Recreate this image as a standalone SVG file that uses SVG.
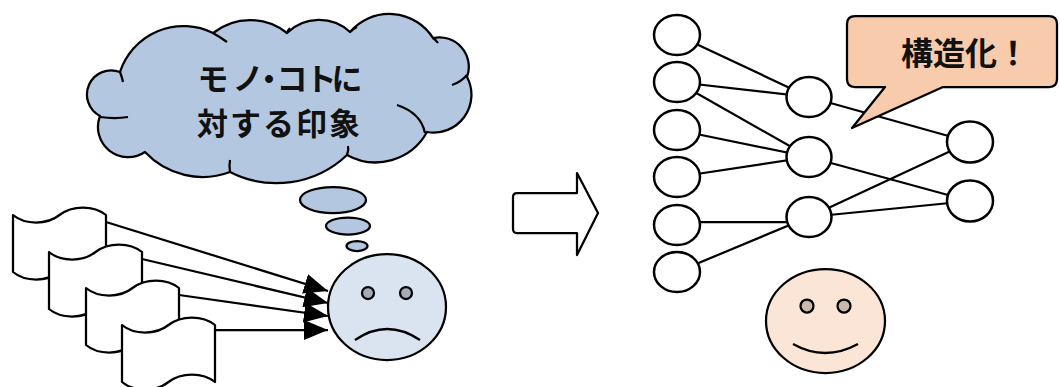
<svg xmlns="http://www.w3.org/2000/svg" xmlns:xlink="http://www.w3.org/1999/xlink" width="1060" height="387" viewBox="0 0 1060 387">
  <style>
    .ln { stroke: #000; stroke-width: 2.25; fill: none; }
    .shape { stroke: #000; stroke-width: 2.25; stroke-linejoin: round; }
    .node { fill: #fff; stroke: #000; stroke-width: 2.5; }
    .jp { font-family: "Noto Sans CJK JP", "Noto Sans CJK SC", sans-serif; font-weight: 700; fill: #111; }
    .sky { fill: #b4c7e0; }
  </style>
  <defs>
    <marker id="head" markerUnits="userSpaceOnUse" markerWidth="24" markerHeight="20" refX="24" refY="10" orient="auto">
      <path d="M0,0 L24,10 L0,20 Z" fill="#000"/>
    </marker>
    <!-- punched-tape document, 93 x 57 -->
    <path id="doc" d="M0,0 C12,10 34,10 46.5,0 C59,-10 81,-10 93,0 L93,57 C81,47 59,47 46.5,57 C34,67 12,67 0,57 Z" fill="#fff" stroke="#000" stroke-width="2.25" stroke-linejoin="round"/>
  </defs>

  <!-- thought cloud -->
  <g id="cloud">
    <path class="shape sky" d="M120,72 A66.7,66.7 0 0 1 213,33 A59.2,59.2 0 0 1 287,33 A45.9,45.9 0 0 1 350,32 A51.7,51.7 0 0 1 433,38 A29.5,29.5 0 0 1 467,77 A37.8,37.8 0 0 1 427,132 A58.9,58.9 0 0 1 347,155 A102.3,102.3 0 0 1 230,172 A78.8,78.8 0 0 1 145,152 A30.2,30.2 0 0 1 100,116 A24.2,24.2 0 0 1 120,72 Z"/>
    <g class="ln">
      <path d="M120,72 Q122,77 123,82"/>
      <path d="M213,33 Q220,37 227,42"/>
      <path d="M287,33 Q288,30 290,28"/>
      <path d="M350,32 Q353,29 357,27"/>
      <path d="M433,38 Q436,40 438,43"/>
      <path d="M452,85 Q461,82 467,75"/>
      <path d="M397,105 Q421,113 425,133"/>
      <path d="M347,155 Q349,150 348,146"/>
      <path d="M230,172 Q229,166 230,160"/>
      <path d="M100,117 Q115,119 128,117"/>
    </g>
    <text class="jp" font-size="31" text-anchor="middle" x="213 248 269 292 321 347" y="90">モノ・コトに</text>
    <text class="jp" font-size="31" letter-spacing="2" x="197" y="135">対する印象</text>
  </g>
  <g id="thought-dots">
    <ellipse class="shape sky" cx="333" cy="200" rx="33" ry="13"/>
    <ellipse class="shape sky" cx="348" cy="226" rx="22" ry="8.5"/>
    <ellipse class="shape sky" cx="357" cy="246" rx="10.5" ry="5"/>
  </g>

  <!-- stacked documents -->
  <g id="doc-1"><use xlink:href="#doc" x="13" y="215"/></g>
  <g id="doc-2"><use xlink:href="#doc" x="49" y="252"/></g>
  <g id="doc-3"><use xlink:href="#doc" x="86" y="288"/></g>
  <g id="doc-4"><use xlink:href="#doc" x="122" y="325"/></g>

  <!-- connectors -->
  <g id="connectors" class="ln">
    <line x1="106" y1="222" x2="328" y2="291" marker-end="url(#head)"/>
    <line x1="142" y1="259" x2="328" y2="303" marker-end="url(#head)"/>
    <line x1="179" y1="295" x2="328" y2="316" marker-end="url(#head)"/>
    <line x1="215" y1="330" x2="328" y2="330" marker-end="url(#head)"/>

    <line x1="677" y1="35" x2="809" y2="97"/>
    <line x1="677" y1="82" x2="809" y2="97"/>
    <line x1="677" y1="82" x2="809" y2="157"/>
    <line x1="677" y1="130" x2="809" y2="157"/>
    <line x1="677" y1="177" x2="809" y2="157"/>
    <line x1="677" y1="222" x2="809" y2="222"/>
    <line x1="677" y1="272" x2="809" y2="217"/>
    <line x1="809" y1="97" x2="970" y2="142"/>
    <line x1="809" y1="157" x2="970" y2="201"/>
    <line x1="809" y1="217" x2="970" y2="142"/>
    <line x1="809" y1="217" x2="970" y2="201"/>
  </g>

  <!-- unhappy face -->
  <g id="sad-face">
    <ellipse class="shape" cx="387" cy="307" rx="59" ry="53" fill="#dae3f0"/>
    <circle class="shape" cx="368" cy="293" r="6" fill="#a5acb8"/>
    <circle class="shape" cx="406" cy="293" r="6" fill="#a5acb8"/>
    <path class="ln" d="M355,340 Q387,318 420,340"/>
  </g>

  <!-- block arrow -->
  <g id="block-arrow">
    <path class="shape" fill="#fff" d="M517,193 L577,193 L577,173 L598,213 L577,255 L577,233 L517,233 Q513,233 513,229 L513,197 Q513,193 517,193 Z"/>
  </g>

  <!-- network nodes -->
  <g id="n-l1"><ellipse class="node" cx="677" cy="35" rx="23" ry="20"/></g>
  <g id="n-l2"><ellipse class="node" cx="677" cy="82" rx="23" ry="20"/></g>
  <g id="n-l3"><ellipse class="node" cx="677" cy="130" rx="23" ry="20"/></g>
  <g id="n-l4"><ellipse class="node" cx="677" cy="177" rx="23" ry="20"/></g>
  <g id="n-l5"><ellipse class="node" cx="677" cy="225" rx="23" ry="20"/></g>
  <g id="n-l6"><ellipse class="node" cx="677" cy="272" rx="23" ry="20"/></g>
  <g id="n-m1"><ellipse class="node" cx="809" cy="97" rx="22.5" ry="20"/></g>
  <g id="n-m2"><ellipse class="node" cx="809" cy="157" rx="22.5" ry="20"/></g>
  <g id="n-m3"><ellipse class="node" cx="809" cy="217" rx="22.5" ry="20"/></g>
  <g id="n-r1"><ellipse class="node" cx="970" cy="142" rx="23" ry="20.5"/></g>
  <g id="n-r2"><ellipse class="node" cx="970" cy="201" rx="23" ry="20.5"/></g>

  <!-- speech bubble -->
  <g id="speech">
    <path class="shape" fill="#f8cbad" d="M855,16 L1049,16 Q1057,16 1057,24 L1057,79 Q1057,87 1049,87 L943,87 L852,128 L885,87 L855,87 Q847,87 847,79 L847,24 Q847,16 855,16 Z"/>
    <text class="jp" font-size="32" x="901" y="65">構造化！</text>
  </g>

  <!-- happy face -->
  <g id="happy-face">
    <ellipse class="shape" cx="825.5" cy="321" rx="59.5" ry="52" fill="#fbe5d6"/>
    <circle class="shape" cx="807" cy="306" r="6.5" fill="#c9b8ab"/>
    <circle class="shape" cx="844" cy="306" r="6.5" fill="#c9b8ab"/>
    <path class="ln" d="M793,344 Q825,362 858,344"/>
  </g>
</svg>
